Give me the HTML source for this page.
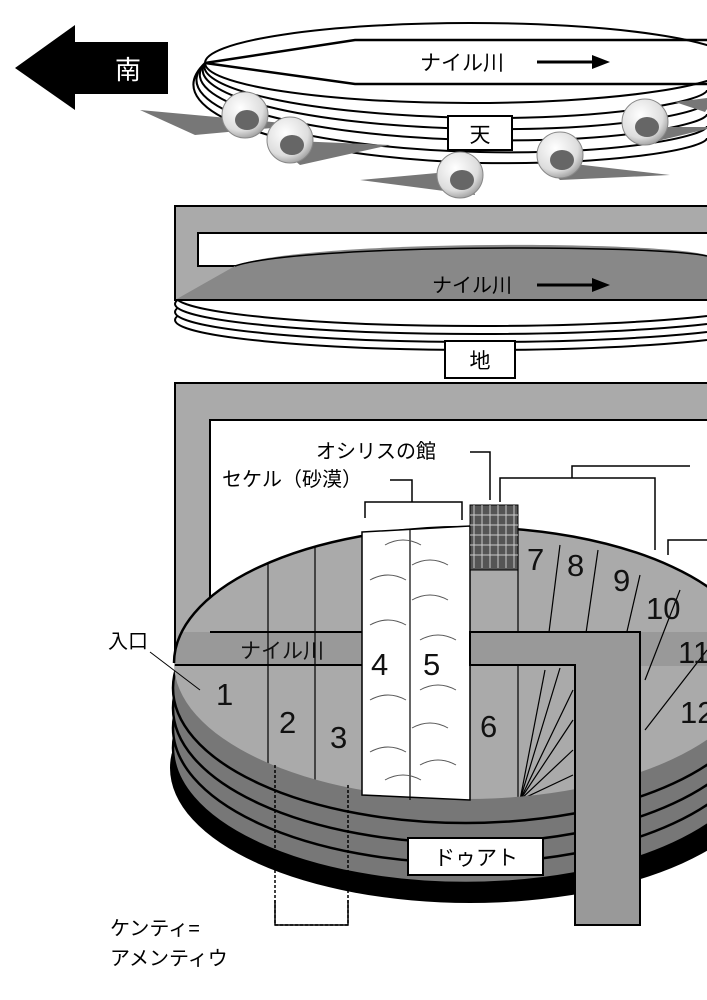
<!DOCTYPE html>
<html><head><meta charset="utf-8"><style>
html,body{margin:0;padding:0;background:#fff;}
svg{display:block;}
text{font-family:"Liberation Sans","Noto Sans CJK JP",sans-serif;}
</style></head><body>
<svg width="707" height="1000" viewBox="0 0 707 1000" xmlns="http://www.w3.org/2000/svg">
<rect width="707" height="1000" fill="#fff"/>
<polygon points="15,68 75,25 75,42 168,42 168,94 75,94 75,110" fill="#000"/>
<text x="128" y="79" font-size="26" fill="#fff" text-anchor="middle">南</text>

<g fill="none" stroke="#000" stroke-width="2">
<path d="M205,63 C150,115 300,158 480,163 C620,165 707,148 707,138"/>
<path d="M205,63 C160,108 300,148 480,152 C620,155 707,136 707,126"/>
<path d="M205,63 C172,100 300,137 480,140 C620,143 707,124 707,114"/>
<path d="M205,63 C185,94 300,126 480,129 C620,131 707,112 707,102"/>
<path d="M205,63 C195,88 300,115 480,118 C620,119 707,100 707,90"/>
</g>
<ellipse cx="470" cy="63" rx="265" ry="40" fill="#fff" stroke="#000" stroke-width="2"/>
<path d="M205,63 L355,40 L707,40 M205,63 L355,84 L707,84" fill="none" stroke="#000" stroke-width="2.5"/>
<text x="420" y="70" font-size="21">ナイル川</text>
<path d="M537,62 L595,62" stroke="#000" stroke-width="3"/>
<polygon points="610,62 592,55 592,69" fill="#000"/>
<defs>
<radialGradient id="ball" cx="0.4" cy="0.35" r="0.7"><stop offset="0" stop-color="#fff"/><stop offset="0.7" stop-color="#ddd"/><stop offset="1" stop-color="#999"/></radialGradient>
</defs>
<g>
<g transform="translate(245,115)"><path d="M-105,-5 L60,10 L-50,20 Z" fill="#777"/><circle r="23" fill="url(#ball)" stroke="#888"/><ellipse cx="2" cy="5" rx="12" ry="10" fill="#666"/></g>
<g transform="translate(290,140)"><path d="M-20,0 L100,5 L10,25 Z" fill="#777"/><circle r="23" fill="url(#ball)" stroke="#888"/><ellipse cx="2" cy="5" rx="12" ry="10" fill="#666"/></g>
<g transform="translate(460,175)"><path d="M-100,5 L10,-5 L15,20 Z" fill="#777"/><circle r="23" fill="url(#ball)" stroke="#888"/><ellipse cx="2" cy="5" rx="12" ry="10" fill="#666"/></g>
<g transform="translate(560,155)"><path d="M-20,5 L110,20 L0,25 Z" fill="#777"/><circle r="23" fill="url(#ball)" stroke="#888"/><ellipse cx="2" cy="5" rx="12" ry="10" fill="#666"/></g>
<g transform="translate(645,122)"><path d="M-20,5 L70,5 L0,22 Z" fill="#777"/><path d="M30,-20 L70,-25 L60,-10Z" fill="#777"/><circle r="23" fill="url(#ball)" stroke="#888"/><ellipse cx="2" cy="5" rx="12" ry="10" fill="#666"/></g>
</g>
<rect x="448" y="116" width="64" height="34" fill="#fff" stroke="#000" stroke-width="2"/>
<text x="480" y="142" font-size="21" text-anchor="middle">天</text>

<g fill="#fff" stroke="#000" stroke-width="2">
<ellipse cx="480" cy="320" rx="305" ry="30"/>
<ellipse cx="480" cy="312" rx="305" ry="30"/>
<ellipse cx="480" cy="304" rx="305" ry="30"/>
<ellipse cx="480" cy="296" rx="305" ry="30"/>
</g>
<rect x="175" y="206" width="540" height="94" fill="#aaa" stroke="#000" stroke-width="2"/>
<rect x="198" y="233" width="520" height="33" fill="#fff" stroke="#000" stroke-width="2"/>
<path d="M235,266 C300,240 650,240 707,255 L707,300 L175,300 Z" fill="#888"/>
<rect x="175" y="206" width="540" height="94" fill="none" stroke="#000" stroke-width="2"/>
<path d="M235,266 C300,244 650,244 707,256" fill="none" stroke="#000" stroke-width="1.5"/>
<text x="432" y="292" font-size="20">ナイル川</text>
<path d="M537,285 L595,285" stroke="#000" stroke-width="3"/>
<polygon points="610,285 592,278 592,292" fill="#000"/>
<rect x="445" y="341" width="70" height="37" fill="#fff" stroke="#000" stroke-width="2"/>
<text x="480" y="368" font-size="21" text-anchor="middle">地</text>

<!-- Duat disk -->
<ellipse cx="470" cy="768" rx="300" ry="135" fill="#000"/>
<g fill="#777" stroke="#000" stroke-width="2.5">
<ellipse cx="466" cy="748" rx="293" ry="135"/>
<ellipse cx="466" cy="728" rx="293" ry="135"/>
<ellipse cx="466" cy="708" rx="293" ry="135"/>
<ellipse cx="466" cy="688" rx="293" ry="135"/>
</g>
<rect x="175" y="383" width="540" height="282" fill="#aaa" stroke="#000" stroke-width="2"/>
<rect x="210" y="420" width="505" height="212" fill="#fff" stroke="#000" stroke-width="2"/>
<clipPath id="face"><ellipse cx="466" cy="663" rx="292" ry="136"/></clipPath>
<g clip-path="url(#face)">
<rect x="170" y="520" width="560" height="300" fill="#aaa"/>
<rect x="175" y="632" width="540" height="34" fill="#999"/>
<g stroke="#000" stroke-width="1.2" fill="none">
<line x1="268" y1="520" x2="268" y2="800"/>
<line x1="315" y1="520" x2="315" y2="800"/>
<line x1="518" y1="520" x2="518" y2="800"/>
<line x1="560" y1="545" x2="548" y2="640"/>
<line x1="598" y1="550" x2="585" y2="640"/>
<line x1="640" y1="575" x2="625" y2="640"/>
<line x1="680" y1="590" x2="645" y2="680"/>
<line x1="707" y1="650" x2="645" y2="730"/>
<line x1="520" y1="800" x2="545" y2="670"/>
<line x1="520" y1="800" x2="560" y2="668"/>
<line x1="520" y1="800" x2="573" y2="690"/>
<line x1="520" y1="800" x2="573" y2="720"/>
<line x1="520" y1="800" x2="573" y2="750"/>
<line x1="520" y1="800" x2="573" y2="775"/>
</g>
</g>
<line x1="210" y1="632" x2="640" y2="632" stroke="#000" stroke-width="2"/>
<line x1="175" y1="665" x2="575" y2="665" stroke="#000" stroke-width="2"/>
<path d="M174,663 A292,136 0 0 1 758,663" fill="none" stroke="#000" stroke-width="2.5"/>
<path d="M362,532 L470,526 L470,800 L362,795 Z" fill="#fff" stroke="#000" stroke-width="1.5"/>
<line x1="410" y1="530" x2="410" y2="800" stroke="#000" stroke-width="1.2"/>
<g fill="none" stroke="#555" stroke-width="1">
<path d="M370,580 q18,-10 36,0 M370,625 q18,-10 36,0 M370,700 q18,-10 36,0 M370,752 q18,-10 36,0 M385,545 q18,-10 36,0 M385,780 q18,-10 36,0 M412,565 q18,-10 36,0 M412,600 q18,-10 36,0 M420,640 q18,-10 36,0 M420,690 q18,-10 36,0 M412,728 q18,-10 36,0 M420,765 q18,-10 36,0"/>
</g>
<path d="M470,632 L640,632 L640,925 L575,925 L575,665 L470,665 Z" fill="#999" stroke="#000" stroke-width="2"/>
<rect x="470" y="505" width="48" height="65" fill="#555" stroke="#000"/>
<g stroke="#ccc" stroke-width="1">
<line x1="474" y1="505" x2="474" y2="568"/><line x1="482" y1="505" x2="482" y2="568"/><line x1="490" y1="505" x2="490" y2="568"/><line x1="498" y1="505" x2="498" y2="568"/><line x1="506" y1="505" x2="506" y2="568"/><line x1="514" y1="505" x2="514" y2="568"/>
<line x1="470" y1="515" x2="518" y2="515"/><line x1="470" y1="525" x2="518" y2="525"/><line x1="470" y1="535" x2="518" y2="535"/><line x1="470" y1="545" x2="518" y2="545"/><line x1="470" y1="555" x2="518" y2="555"/>
</g>
<g font-size="31" fill="#111">
<text x="216" y="705">1</text><text x="279" y="733">2</text><text x="330" y="748">3</text>
<text x="371" y="675">4</text><text x="423" y="675">5</text><text x="480" y="737">6</text>
<text x="527" y="570">7</text><text x="567" y="576">8</text><text x="613" y="591">9</text>
<text x="646" y="619">10</text><text x="678" y="663">11</text><text x="680" y="723">12</text>
</g>
<text x="240" y="658" font-size="21" fill="#111">ナイル川</text>
<text x="108" y="648" font-size="20">入口</text>
<line x1="150" y1="652" x2="200" y2="690" stroke="#000" stroke-width="1"/>
<text x="316" y="458" font-size="20">オシリスの館</text>
<path d="M470,452 L490,452 L490,500" fill="none" stroke="#000" stroke-width="1.5"/>
<text x="222" y="486" font-size="20">セケル（砂漠）</text>
<path d="M390,480 L412,480 L412,502 M365,518 L365,502 L462,502 L462,520" fill="none" stroke="#000" stroke-width="1.5"/>
<path d="M500,502 L500,478 L655,478 L655,550 M572,478 L572,466 L690,466 M668,555 L668,540 L707,540" fill="none" stroke="#000" stroke-width="1.5"/>
<rect x="408" y="838" width="135" height="37" fill="#fff" stroke="#000" stroke-width="2"/>
<text x="476" y="865" font-size="21" text-anchor="middle">ドゥアト</text>
<g stroke="#000" stroke-width="1.5" fill="none">
<path d="M275,765 L275,925 L348,925 L348,785" stroke-dasharray="3,2"/>
<path d="M275,900 L275,925 L348,925 L348,900"/>
</g>
<text x="110" y="935" font-size="20">ケンティ=</text>
<text x="110" y="965" font-size="20">アメンティウ</text>
</svg>
</body></html>
